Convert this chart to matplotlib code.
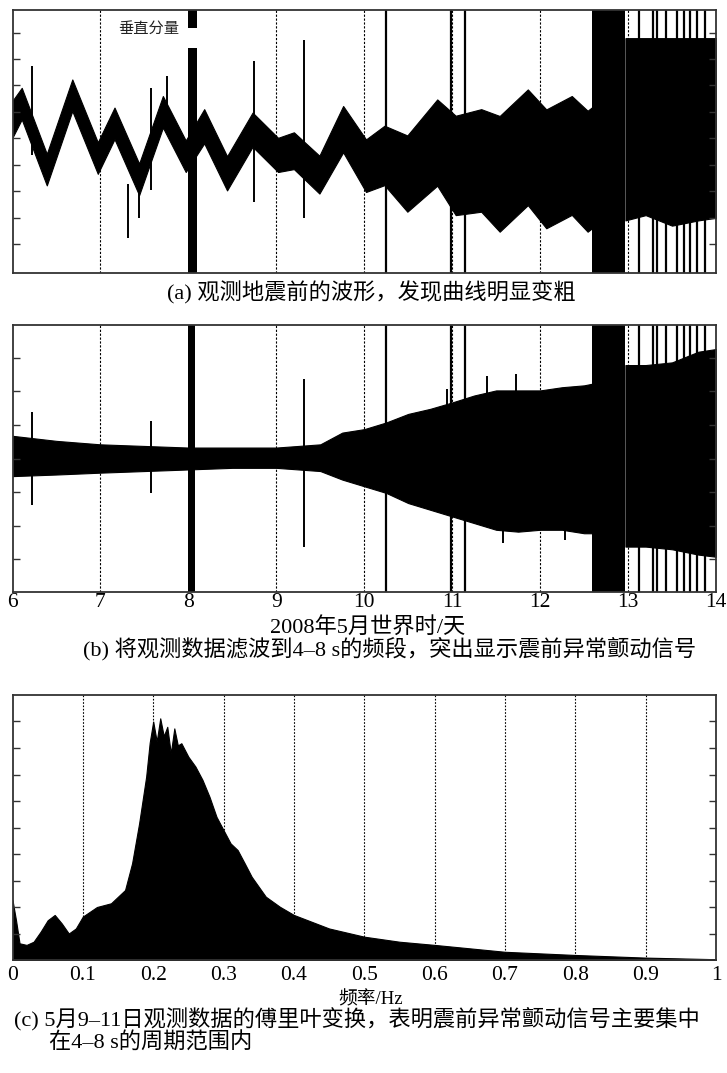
import numpy as np
import matplotlib
matplotlib.use("Agg")
import matplotlib.pyplot as plt

# ---------------- data ----------------
day_ticks = [6, 7, 8, 9, 10, 11, 12, 13, 14]
day_grid = [7, 9, 10, 11, 12, 13]

# (a) raw vertical waveform: centre line and half thickness at extremes
a_t = [6.0, 6.105, 6.39, 6.68, 6.97, 7.16, 7.44, 7.71, 7.97, 8.18, 8.44, 8.73,
       9.02, 9.20, 9.49, 9.76, 10.02, 10.23, 10.49, 10.83, 11.04, 11.33, 11.54,
       11.86, 12.07, 12.36, 12.54, 12.59]
a_center = [58.5, 64.4, 39.3, 67.6, 43.7, 56.9, 35.6, 61.3, 44.4, 55.8, 37.9, 54.5,
            44.9, 46.5, 37.4, 54.7, 40.8, 44.7, 37.8, 49.6, 40.9, 42.8, 37.7,
            47.8, 39.6, 44.7, 38.7, 40.0]
a_half = [7.0, 6.0, 6.0, 6.0, 6.0, 6.0, 6.0, 6.0, 6.0, 6.5, 6.5, 6.5,
          6.5, 7.0, 7.2, 8.8, 10.0, 11.3, 14.5, 16.4, 18.9, 19.5, 22.0,
          22.0, 22.6, 22.6, 23.0, 23.0]
late_t = [12.97, 13.2, 13.5, 13.8, 14.0]
a_late_upper = [89.3, 89.3, 89.3, 89.3, 89.3]
a_late_lower = [20.0, 22.0, 18.0, 20.0, 21.0]
a_spike_t = [6.226, 7.31, 7.44, 7.58, 7.76, 8.75, 9.31]
a_spike_lo = [45.0, 13.2, 21.0, 31.4, 60.0, 27.0, 20.8]
a_spike_hi = [78.6, 34.0, 40.0, 70.4, 74.8, 80.5, 88.7]

# (b) filtered 4-8 s band: envelope
b_t = [6.0, 6.5, 7.0, 7.5, 8.0, 8.5, 9.0, 9.5, 9.75, 10.0, 10.25, 10.5, 10.75,
       11.0, 11.25, 11.5, 11.75, 12.0, 12.25, 12.5, 12.59]
b_upper = [58.5, 56.6, 55.3, 54.7, 54.1, 54.1, 54.1, 55.3, 59.7, 61.0, 63.5, 66.7,
           68.6, 71.0, 73.6, 75.5, 75.5, 75.5, 76.7, 77.4, 78.0]
b_lower = [43.4, 44.0, 44.7, 45.3, 45.9, 46.5, 46.5, 45.3, 42.1, 39.6, 37.1, 33.3,
           30.8, 28.3, 25.8, 23.3, 22.6, 23.3, 23.3, 22.0, 22.0]
b_late_upper = [85.0, 85.0, 86.0, 90.0, 91.0]
b_late_lower = [17.0, 17.0, 16.0, 14.0, 13.2]
b_spike_t = [6.22, 7.58, 9.31, 10.94, 11.40, 11.58, 11.73, 12.28]
b_spike_lo = [32.7, 37.1, 17.0, 40.0, 40.0, 18.2, 40.0, 19.5]
b_spike_hi = [67.3, 64.2, 79.9, 76.0, 81.0, 60.0, 81.8, 60.0]

# events common to (a) and (b)
full_spike_t = [10.25, 10.99, 11.15, 13.12, 13.28, 13.33, 13.43, 13.56, 13.64,
                13.70, 13.78, 13.88]
burst_start, burst_end = 12.59, 12.97
quake_a = [8.0, 8.10]
quake_b = [8.0, 8.07]

# (c) Fourier amplitude spectrum (9-11 May)
freq = [0.0, 0.005, 0.01, 0.02, 0.03, 0.04, 0.05, 0.06, 0.07, 0.08, 0.09, 0.10,
        0.12, 0.14, 0.16, 0.17, 0.18, 0.19, 0.195, 0.20, 0.205, 0.21, 0.215, 0.22,
        0.225, 0.23, 0.235, 0.24, 0.25, 0.26, 0.27, 0.28, 0.29, 0.30, 0.31, 0.32,
        0.33, 0.34, 0.36, 0.38, 0.40, 0.45, 0.50, 0.55, 0.60, 0.65, 0.70, 0.80,
        0.90, 1.0]
amp = [22.6, 15.0, 6.3, 5.7, 6.9, 10.7, 15.0, 17.0, 13.8, 10.0, 11.9, 16.4,
       20.0, 21.4, 26.4, 36.5, 51.6, 69.2, 82.0, 90.0, 82.5, 91.2, 84.5, 88.0,
       78.0, 87.4, 81.0, 81.8, 76.7, 73.0, 68.0, 61.6, 54.0, 49.0, 44.0, 41.5,
       36.5, 31.4, 23.9, 20.1, 17.0, 11.9, 8.8, 6.9, 5.7, 4.4, 3.1, 1.9, 0.9, 0.3]
freq_ticks = [0, 0.1, 0.2, 0.3, 0.4, 0.5, 0.6, 0.7, 0.8, 0.9, 1]
freq_labels = ["0", "0.1", "0.2", "0.3", "0.4", "0.5", "0.6", "0.7", "0.8", "0.9", "1"]

# ---------------- drawing ----------------
FAM = ["Liberation Serif", "Noto Sans CJK SC", "DejaVu Sans"]
plt.rcParams["font.family"] = FAM

W, H = 727, 1073
fig = plt.figure(figsize=(W / 100, H / 100), dpi=100)


def axes_px(left, top, right, bottom):
    return fig.add_axes([left / W, 1 - bottom / H, (right - left) / W, (bottom - top) / H])


def style(ax, yticks):
    for s in ax.spines.values():
        s.set_linewidth(1.3)
        s.set_color("#333333")
    ax.set_ylim(0, 100)
    ax.set_yticks(yticks)
    ax.tick_params(axis="y", direction="in", left=True, right=True, length=5,
                   width=1.0, labelleft=False, labelright=False, colors="#333333")
    ax.tick_params(axis="x", length=0, labelsize=15.5, pad=3)


K = "black"
grid_style = (0, (2, 1.5))
CAP = 16

# ---- panel a ----
axa = axes_px(12.5, 10, 716, 273)
axa.set_xlim(6, 14)
c = np.array(a_center)
h = np.array(a_half)
axa.fill_between(a_t, c - h, c + h, color=K, lw=0.8)
axa.fill_between(late_t, a_late_lower, a_late_upper, color=K, lw=0.8)
axa.axvspan(burst_start, burst_end, color=K, lw=0)
axa.axvspan(quake_a[0], quake_a[1], color=K, lw=0)
axa.vlines(a_spike_t, a_spike_lo, a_spike_hi, color=K, lw=1.4)
axa.vlines(full_spike_t, 0, 100, color=K, lw=1.6)
axa.vlines(day_grid, 0, 100, color=K, lw=0.8, linestyles=grid_style)
style(axa, np.arange(11, 92, 10.05))
axa.set_xticks(day_ticks)
axa.tick_params(axis="x", labelbottom=False)
axa.text(7.55, 93, "垂直分量", ha="center", va="center", fontsize=11,
         family=["Noto Sans CJK SC"], color="#222222",
         bbox=dict(facecolor="white", edgecolor="none", pad=3.0))
axa.add_patch(plt.Rectangle((7.9, 85.5), 0.25, 7.6, facecolor="white",
                            edgecolor="none", zorder=3))

fig.text(371 / W, 1 - 293 / H, "(a) 观测地震前的波形，发现曲线明显变粗",
         ha="center", va="center", fontsize=CAP)

# ---- panel b ----
axb = axes_px(12.5, 325, 716, 592)
axb.set_xlim(6, 14)
axb.fill_between(b_t, b_lower, b_upper, color=K, lw=0.8)
axb.fill_between(late_t, b_late_lower, b_late_upper, color=K, lw=0.8)
axb.axvspan(burst_start, burst_end, color=K, lw=0)
axb.axvspan(quake_b[0], quake_b[1], color=K, lw=0)
axb.vlines(b_spike_t, b_spike_lo, b_spike_hi, color=K, lw=1.4)
axb.vlines(full_spike_t, 0, 100, color=K, lw=1.6)
axb.vlines(day_grid, 0, 100, color=K, lw=0.8, linestyles=grid_style)
style(axb, 50 + 12.57 * np.arange(-3, 4))
axb.set_xticks(day_ticks)
axb.set_xticklabels([str(d) for d in day_ticks])
axb.tick_params(axis="x", pad=1)

fig.text(368 / W, 1 - 627 / H, "2008年5月世界时/天", ha="center", va="center",
         fontsize=CAP)
fig.text(83 / W, 1 - 650 / H, "(b) 将观测数据滤波到4–8 s的频段，突出显示震前异常颤动信号",
         ha="left", va="center", fontsize=CAP)

# ---- panel c ----
axc = axes_px(12.5, 695, 716, 960)
axc.set_xlim(0, 1)
axc.fill_between(freq, 0, amp, color=K, lw=0.8)
axc.vlines(freq_ticks[1:-1], 0, 100, color=K, lw=0.8, linestyles=(0, (1.5, 1.5)))
style(axc, np.arange(10, 91, 10))
axc.set_xticks(freq_ticks)
axc.set_xticklabels(freq_labels)
axc.tick_params(axis="x", pad=4)

fig.text(371 / W, 1 - 1000 / H, "频率/Hz", ha="center", va="center", fontsize=13.5)
fig.text(14 / W, 1 - 1020 / H, "(c) 5月9–11日观测数据的傅里叶变换，表明震前异常颤动信号主要集中",
         ha="left", va="center", fontsize=CAP)
fig.text(49 / W, 1 - 1043 / H, "在4–8 s的周期范围内",
         ha="left", va="center", fontsize=CAP)

fig.savefig("out.png", dpi=100, facecolor="white")
